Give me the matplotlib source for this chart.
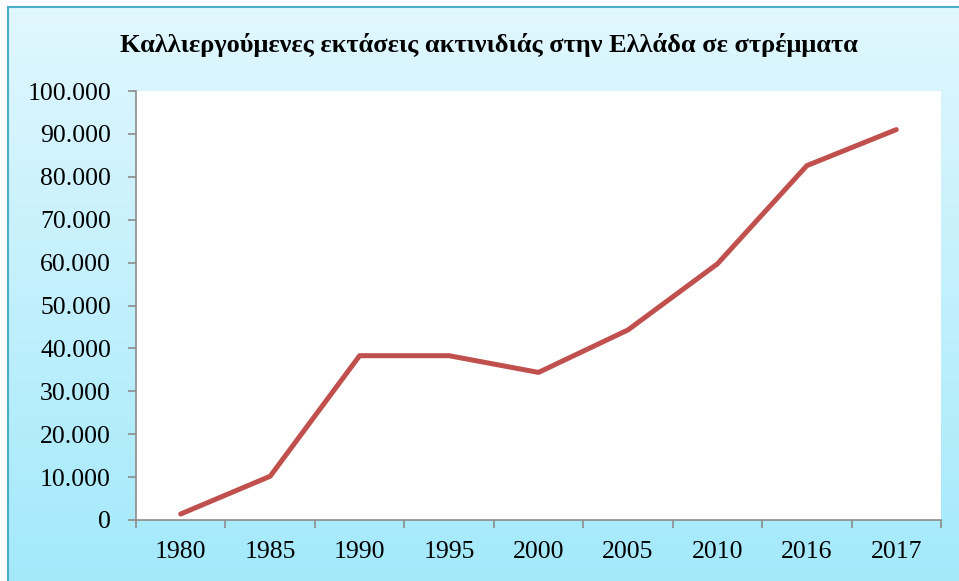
import matplotlib
matplotlib.use("Agg")
import matplotlib.pyplot as plt
import numpy as np
from matplotlib.ticker import FuncFormatter, FixedLocator

years = ["1980", "1985", "1990", "1995", "2000", "2005", "2010", "2016", "2017"]
area = [1400, 10200, 38300, 38300, 34400, 44300, 59700, 82600, 91000]
title = "Καλλιεργούμενες εκτάσεις ακτινιδιάς στην Ελλάδα σε στρέμματα"

plt.rcParams["font.family"] = ["Liberation Serif", "DejaVu Serif"]

W, H = 959, 581
fig = plt.figure(figsize=(W / 100, H / 100), dpi=100)

# gradient background panel with a thin border on top/left
bg = fig.add_axes([8 / W, 0, 1 - 8 / W, (H - 7) / H], zorder=-1)
top = np.array([0.882, 0.969, 0.996])
bot = np.array([0.640, 0.914, 0.984])
t = np.linspace(0, 1, 256)[:, None]
grad = (top * (1 - t) + bot * t)[:, None, :]
bg.imshow(grad, aspect="auto", extent=[0, 1, 0, 1])
bg.set_xlim(0, 1)
bg.set_ylim(0, 1)
bg.set_xticks([])
bg.set_yticks([])
for side in ["right", "bottom"]:
    bg.spines[side].set_visible(False)
for side in ["top", "left"]:
    bg.spines[side].set_color("#4BACC6")
    bg.spines[side].set_linewidth(1.5)

ax = fig.add_axes([136 / W, (H - 520) / H, 805 / W, (520 - 91) / H])
ax.set_facecolor("white")
x = np.arange(len(years))
ax.plot(x, area, color="#C0504D", linewidth=3.6, solid_capstyle="round")
ax.set_xlim(-0.5, len(years) - 0.5)
ax.set_ylim(0, 100000)
ax.set_yticks(np.arange(0, 100001, 10000))
ax.yaxis.set_major_formatter(FuncFormatter(lambda v, p: f"{int(v):,}".replace(",", ".")))
ax.set_xticks(x)
ax.set_xticklabels(years)
ax.xaxis.set_minor_locator(FixedLocator(np.arange(-0.5, len(years), 1)))
ax.tick_params(axis="x", which="major", length=0, pad=15, labelsize=18.5)
ax.tick_params(axis="x", which="minor", length=6, width=1.2, color="#8C8C8C")
ax.tick_params(axis="y", length=6, width=1.2, color="#8C8C8C", pad=12, labelsize=18.5)
for side in ["top", "right"]:
    ax.spines[side].set_visible(False)
for side in ["left", "bottom"]:
    ax.spines[side].set_color("#8C8C8C")
    ax.spines[side].set_linewidth(1.2)

fig.text(489 / W, 1 - 45 / H, title, ha="center", va="center",
         fontsize=19, fontweight="bold")

fig.savefig("out.png", dpi=100)
